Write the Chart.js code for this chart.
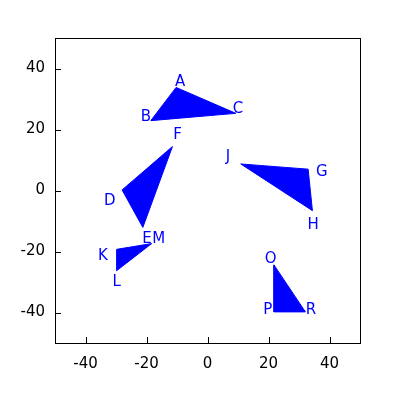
<!DOCTYPE html>
<html>
<head>
<meta charset="utf-8">
<script src="https://cdn.jsdelivr.net/npm/chart.js@4/dist/chart.umd.min.js"></script>
<style>
html,body{margin:0;padding:0;background:#fff;}
#wrap{width:400px;height:400px;}
</style>
</head>
<body>
<div id="wrap"><canvas id="c" width="400" height="400"></canvas></div>
<script>
// Triangle vertices (data coordinates)
const triABC = [{x:-10.3,y:33.8},{x:-18.6,y:22.9},{x:9.3,y:25.3}];
const triDFE = [{x:-28,y:0.2},{x:-11.5,y:14.4},{x:-21.2,y:-12.1}];
const triJGH = [{x:10.9,y:8.7},{x:33,y:7},{x:34.4,y:-6.6}];
const triKML = [{x:-29.8,y:-19.3},{x:-18.3,y:-17.4},{x:-29.8,y:-26.3}];
const triOPR = [{x:21.8,y:-24.4},{x:21.8,y:-39.8},{x:32.1,y:-39.8}];
const triangles = [triABC, triDFE, triJGH, triKML, triOPR];

// Point labels (text and text-centre positions in data coordinates)
const labelTexts = ['A','B','C','D','F','E','M','J','G','H','K','L','O','P','R'];
const labelX = [-9.0,-20.2,10.0,-32.0,-9.8,-19.8,-16.0,6.7,37.5,34.6,-34.3,-29.8,20.7,19.8,33.9];
const labelY = [35.4,24.2,26.8,-3.4,18.2,-15.8,-15.8,10.8,5.9,-11.5,-21.4,-29.9,-22.4,-39.1,-39.1];

const tickValues = [-40,-20,0,20,40];
const axisMin = -50, axisMax = 50;

const BLUE = '#0000ff';
Chart.defaults.font.family = "'DejaVu Sans', sans-serif";
Chart.defaults.font.size = 15;
Chart.defaults.color = '#000';

const frame = {
  id: 'frame',
  afterDatasetsDraw(chart) {
    const ctx = chart.ctx, a = chart.chartArea;
    const xs = chart.scales.x, ys = chart.scales.y;
    ctx.save();
    // labels
    ctx.fillStyle = BLUE;
    ctx.font = "15px 'DejaVu Sans', sans-serif";
    ctx.textAlign = 'center';
    ctx.textBaseline = 'middle';
    labelTexts.forEach((t, i) => {
      ctx.fillText(t, xs.getPixelForValue(labelX[i]), ys.getPixelForValue(labelY[i]));
    });
    // frame
    ctx.strokeStyle = '#000';
    ctx.lineWidth = 1;
    ctx.strokeRect(Math.round(a.left) + 0.5, Math.round(a.top) + 0.5,
                   Math.round(a.right - a.left), Math.round(a.bottom - a.top));
    // inward ticks
    const L = 6;
    ctx.beginPath();
    tickValues.forEach(v => {
      const px = Math.round(xs.getPixelForValue(v)) + 0.5;
      ctx.moveTo(px, a.bottom); ctx.lineTo(px, a.bottom - L);
      const py = Math.round(ys.getPixelForValue(v)) + 0.5;
      ctx.moveTo(a.left, py); ctx.lineTo(a.left + L, py);
    });
    ctx.stroke();
    ctx.restore();
  }
};

new Chart(document.getElementById('c'), {
  type: 'scatter',
  data: {
    datasets: triangles.map(t => ({
      data: t.concat([t[0]]),
      showLine: true,
      fill: 'shape',
      backgroundColor: BLUE,
      borderColor: BLUE,
      borderWidth: 1,
      pointRadius: 0,
      pointHoverRadius: 0,
      tension: 0
    }))
  },
  options: {
    responsive: false,
    animation: false,
    events: [],
    layout: { padding: { top: 38, right: 40, left: 0, bottom: 0 } },
    plugins: { legend: { display: false }, tooltip: { enabled: false } },
    scales: {
      x: {
        type: 'linear', min: axisMin, max: axisMax,
        grid: { display: false, drawTicks: false },
        border: { display: false },
        ticks: { padding: 12, color: '#000' },
        afterBuildTicks(s) { s.ticks = tickValues.map(v => ({ value: v })); },
        afterFit(s) { s.height = 57; }
      },
      y: {
        type: 'linear', min: axisMin, max: axisMax,
        grid: { display: false, drawTicks: false },
        border: { display: false },
        ticks: { padding: 10, color: '#000' },
        afterBuildTicks(s) { s.ticks = tickValues.map(v => ({ value: v })); },
        afterFit(s) { s.width = 55; }
      }
    }
  },
  plugins: [frame]
});
</script>
</body>
</html>
